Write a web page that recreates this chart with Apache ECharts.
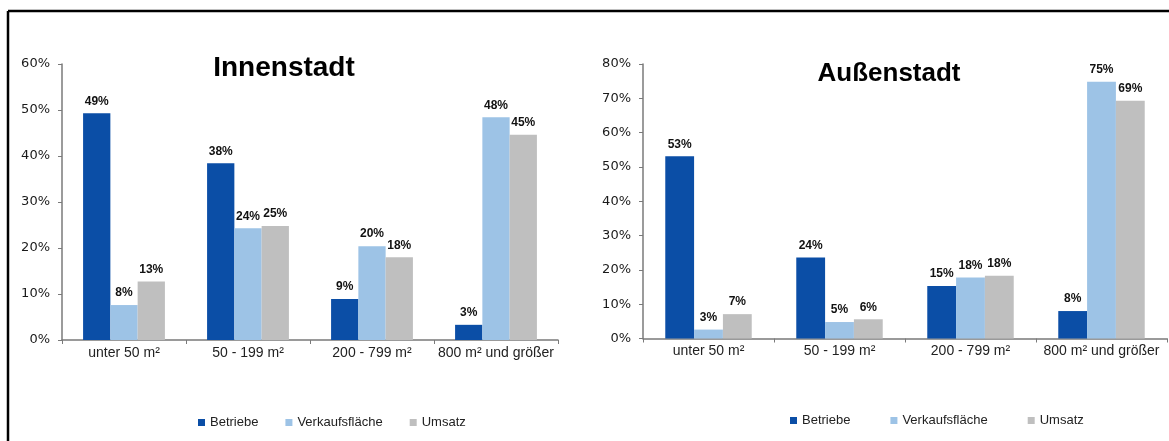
<!DOCTYPE html>
<html>
<head>
<meta charset="utf-8">
<script src="https://cdn.jsdelivr.net/npm/echarts@6/dist/echarts.min.js"></script>
<style>
html,body{margin:0;padding:0;background:#fff;}
#chart{width:1169px;height:441px;}
</style>
</head>
<body>
<div id="chart"></div>
<script>
const categories = ['unter 50 m²', '50 - 199 m²', '200 - 799 m²', '800 m² und größer'];
const seriesNames = ['Betriebe', 'Verkaufsfläche', 'Umsatz'];
const innenBetriebe = [49.3, 38.4, 8.9, 3.3];
const innenVerkauf = [7.6, 24.3, 20.4, 48.4];
const innenUmsatz = [12.7, 24.8, 18.0, 44.6];
const aussenBetriebe = [53.1, 23.6, 15.3, 8.0];
const aussenVerkauf = [2.6, 4.8, 17.8, 74.8];
const aussenUmsatz = [7.1, 5.6, 18.3, 69.3];
const innenMax = 60, aussenMax = 80, tickStep = 10;
const titles = ['Innenstadt', 'Außenstadt'];

const colors = ['#0B4EA6', '#9DC3E6', '#BFBFBF'];
const chart = echarts.init(document.getElementById('chart'));

function xAxis(gridIndex) {
  return {
    type: 'category', gridIndex, data: categories,
    axisLine: { lineStyle: { color: '#7a7a7a', width: 1.5 } },
    axisTick: { show: true, interval: 0, length: 4, lineStyle: { color: '#7a7a7a' } },
    axisLabel: { interval: 0, color: '#222', fontFamily: 'Liberation Sans, Arial, sans-serif', fontSize: 14, margin: 6 }
  };
}
function yAxis(gridIndex, max) {
  return {
    type: 'value', gridIndex, min: 0, max, interval: tickStep,
    splitLine: { show: false },
    axisLine: { show: true, lineStyle: { color: '#7a7a7a', width: 1.5 } },
    axisTick: { show: true, length: 4, lineStyle: { color: '#7a7a7a' } },
    axisLabel: { color: '#1a1a1a', fontFamily: 'DejaVu Sans, sans-serif', fontSize: 13, margin: 12, formatter: '{value}%' }
  };
}
function bar(name, data, idx, i) {
  return {
    name, type: 'bar', data, xAxisIndex: idx, yAxisIndex: idx,
    barGap: '0%', barCategoryGap: '34%',
    itemStyle: { color: colors[i] },
    label: {
      show: true, position: 'top', distance: 6,
      formatter: p => Math.round(p.value) + '%',
      color: '#111', fontWeight: 'bold', fontSize: 12,
      fontFamily: 'Liberation Sans, Arial, sans-serif'
    }
  };
}
const legendBase = {
  icon: 'rect', itemWidth: 7, itemHeight: 7, data: seriesNames,
  textStyle: { color: '#222', fontSize: 13, fontFamily: 'Liberation Sans, Arial, sans-serif' },
  selectedMode: false
};

chart.setOption({
  animation: false,
  color: colors,
  grid: [
    { left: 62, top: 64, width: 496, bottom: 101 },
    { left: 643, top: 64, width: 524, bottom: 102.5 }
  ],
  xAxis: [xAxis(0), xAxis(1)],
  yAxis: [yAxis(0, innenMax), yAxis(1, aussenMax)],
  legend: [
    Object.assign({}, legendBase, { left: 193, top: 411, itemGap: 27 }),
    Object.assign({}, legendBase, { left: 785, top: 409, itemGap: 40 })
  ],
  graphic: [
    { type: 'line', shape: { x1: 8, y1: 11, x2: 1169, y2: 11 }, style: { stroke: '#000', lineWidth: 2.5 } },
    { type: 'line', shape: { x1: 8, y1: 11, x2: 8, y2: 441 }, style: { stroke: '#000', lineWidth: 2.5 } },
    { type: 'text', x: 284, y: 68, style: { text: titles[0], font: 'bold 28px "Liberation Sans", Arial, sans-serif', fill: '#000', align: 'center', verticalAlign: 'middle' } },
    { type: 'text', x: 889, y: 74, style: { text: titles[1], font: 'bold 26px "Liberation Sans", Arial, sans-serif', fill: '#000', align: 'center', verticalAlign: 'middle' } }
  ],
  series: [
    bar(seriesNames[0], innenBetriebe, 0, 0),
    bar(seriesNames[1], innenVerkauf, 0, 1),
    bar(seriesNames[2], innenUmsatz, 0, 2),
    bar(seriesNames[0], aussenBetriebe, 1, 0),
    bar(seriesNames[1], aussenVerkauf, 1, 1),
    bar(seriesNames[2], aussenUmsatz, 1, 2)
  ]
});
</script>
</body>
</html>
